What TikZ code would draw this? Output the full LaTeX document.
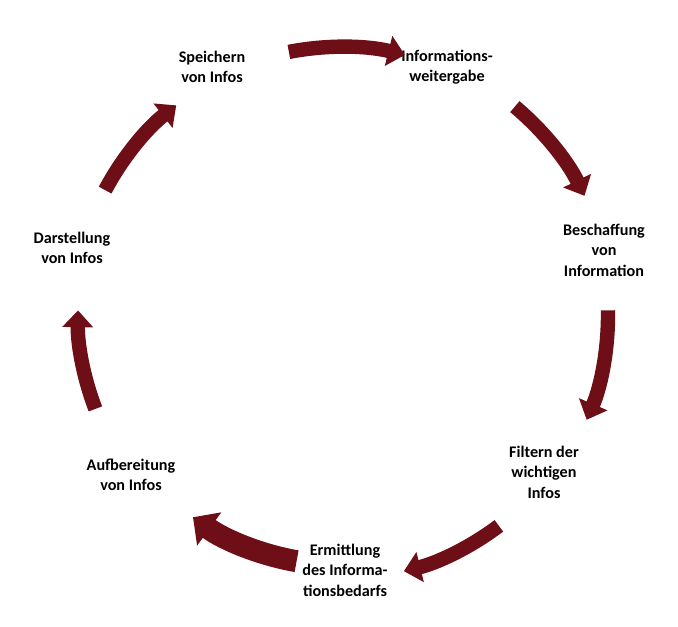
\documentclass[tikz,border=0pt]{standalone}
\usepackage{fontspec}
\setmainfont{Carlito}
\usetikzlibrary{arrows.meta}
\definecolor{darkred}{HTML}{6E0E16}
\tikzset{
  phase/.style={font=\bfseries\fontsize{11.5}{14.5}\selectfont, align=center},
  cyc/.style={darkred, line width=0.36cm, -{Triangle[width=0.75cm, length=0.42cm]}}
}
\begin{document}
\begin{tikzpicture}[x=0.025cm, y=0.025cm]

            \useasboundingbox (0,0) rectangle (678,626);
            \coordinate (M) at (340,311);

            \node[phase] (speichern) at (212,559) {Speichern\\von Infos};
            \node[phase] (weitergabe) at (447,559) {Informations-\\weitergabe};
            \node[phase] (beschaffung) at (604,376) {Beschaffung\\von\\Information};
            \node[phase] (filtern) at (544,154) {Filtern der\\wichtigen\\Infos};
            \node[phase] (ermittlung) at (345,56) {Ermittlung\\des Informa-\\tionsbedarfs};
            \node[phase] (aufbereitung) at (131,151) {Aufbereitung\\von Infos};
            \node[phase] (darstellung) at (72,378) {Darstellung\\von Infos};

            \draw[cyc] (M) ++(101:268) arc[start angle=101, end angle=76, radius=6.7cm];
            \draw[cyc] (M) ++(50:272) arc[start angle=50, end angle=26, radius=6.8cm];
            \draw[cyc] (M) ++(1:268) arc[start angle=1, end angle=-23, radius=6.7cm];
            \draw[cyc] (M) ++(-53:264) arc[start angle=-53, end angle=-76, radius=6.6cm];
            \draw[cyc, line width=0.55cm, -{Triangle[width=1.0cm, length=0.5cm]}]
                 (M) ++(-100:250) arc[start angle=-100, end angle=-126, radius=6.25cm];
            \draw[cyc] (M) ++(-159:262) arc[start angle=-159, end angle=-181, radius=6.55cm];
            \draw[cyc] (M) ++(152:266) arc[start angle=152, end angle=128, radius=6.65cm];

\end{tikzpicture}
\end{document}
